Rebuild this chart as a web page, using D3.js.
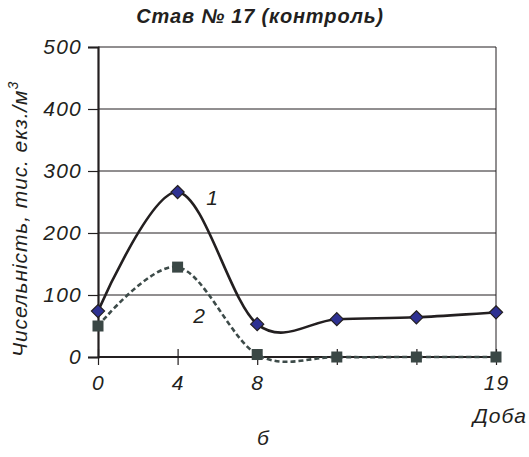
<!DOCTYPE html>
<html>
<head>
<meta charset="utf-8">
<script src="https://cdn.jsdelivr.net/npm/d3@7"></script>
<style>
  body { margin: 0; background: #fff; }
  text { font-family: "Liberation Sans", Arial, sans-serif; fill: #231f20; }
</style>
</head>
<body>
<svg id="chart" width="529" height="457"></svg>
<script>
// data
const days = ["0", "4", "8", "12", "15", "19"];
const dayLabels = ["0", "4", "8", "", "", "19"];
const series1 = [74, 266, 53, 61, 64, 72];
const series2 = [50, 145, 4, 0, 0, 0];
const yTicks = [0, 100, 200, 300, 400, 500];

const svg = d3.select("#chart");
const margin = { left: 98, right: 33, top: 47, bottom: 100 };
const W = 529, H = 457;

const x = d3.scalePoint().domain(days).range([margin.left, W - margin.right]);
const y = d3.scaleLinear().domain([0, 500]).range([H - margin.bottom, margin.top]);

// grid
svg.append("g").selectAll("line").data(yTicks.slice(1)).join("line")
    .attr("x1", margin.left).attr("x2", W - margin.right)
    .attr("y1", d => y(d)).attr("y2", d => y(d))
    .attr("stroke", "#231f20").attr("stroke-width", 1);

// right border
svg.append("line")
    .attr("x1", W - margin.right).attr("x2", W - margin.right)
    .attr("y1", y(500)).attr("y2", y(0))
    .attr("stroke", "#231f20").attr("stroke-width", 1);

// y axis
const yAxis = svg.append("g")
    .attr("transform", `translate(${margin.left},0)`)
    .call(d3.axisLeft(y).tickValues(yTicks).tickSize(10).tickPadding(6));
yAxis.select(".domain").attr("stroke", "#231f20").attr("stroke-width", 2.2);
yAxis.selectAll(".tick line").attr("stroke", "#231f20").attr("stroke-width", 1.2);
yAxis.selectAll(".tick text")
    .attr("font-size", 21).attr("font-style", "italic").attr("letter-spacing", 1.2)
    .attr("font-family", "Liberation Sans, Arial, sans-serif").attr("fill", "#231f20");

// x axis
const xAxis = svg.append("g")
    .attr("transform", `translate(0,${y(0)})`)
    .call(d3.axisBottom(x).tickFormat((d, i) => dayLabels[i]).tickSize(8).tickPadding(10));
xAxis.select(".domain").attr("stroke", "#231f20").attr("stroke-width", 2).attr("d", `M${margin.left},0H${W - margin.right}`);
xAxis.selectAll(".tick line").attr("stroke", "#231f20").attr("stroke-width", 1.2).attr("y1", -8);
xAxis.selectAll(".tick text")
    .attr("font-size", 21).attr("font-style", "italic").attr("letter-spacing", 1.2)
    .attr("font-family", "Liberation Sans, Arial, sans-serif").attr("fill", "#231f20");

// lines
const line = d3.line()
    .x((d, i) => x(days[i]))
    .y(d => y(d))
    .curve(d3.curveCardinal.tension(0));

svg.append("path").datum(series2)
    .attr("d", line)
    .attr("fill", "none")
    .attr("stroke", "#3d4b49")
    .attr("stroke-width", 2.6)
    .attr("stroke-dasharray", "5,3");

svg.append("path").datum(series1)
    .attr("d", line)
    .attr("fill", "none")
    .attr("stroke", "#231f20")
    .attr("stroke-width", 2.6);

// markers
svg.append("g").selectAll("rect").data(series2).join("rect")
    .attr("x", (d, i) => x(days[i]) - 5.5)
    .attr("y", d => y(d) - 5.5)
    .attr("width", 11).attr("height", 11)
    .attr("fill", "#3a4745");

svg.append("g").selectAll("path").data(series1).join("path")
    .attr("d", d3.symbol(d3.symbolDiamond2, 110))
    .attr("transform", (d, i) => `translate(${x(days[i])},${y(d)})`)
    .attr("fill", "#2e3192")
    .attr("stroke", "#231f20")
    .attr("stroke-width", 1.2);

// series labels
svg.append("text").attr("x", 212).attr("y", 205)
    .attr("text-anchor", "middle").attr("font-size", 21).attr("font-style", "italic").text("1");
svg.append("text").attr("x", 199).attr("y", 323)
    .attr("text-anchor", "middle").attr("font-size", 21).attr("font-style", "italic").text("2");

// titles
svg.append("text").attr("x", 260).attr("y", 23)
    .attr("text-anchor", "middle").attr("font-size", 20).attr("letter-spacing", 0.8)
    .attr("font-weight", "bold").attr("font-style", "italic")
    .text("Став № 17 (контроль)");

svg.append("text")
    .attr("transform", `translate(27,219) rotate(-90)`)
    .attr("text-anchor", "middle").attr("font-size", 21).attr("font-style", "italic")
    .attr("letter-spacing", 0.9)
    .text("Чисельність, тис. екз./м")
  .append("tspan").attr("dy", -9).attr("font-size", 14).text("3");

svg.append("text").attr("x", 500).attr("y", 423)
    .attr("text-anchor", "middle").attr("font-size", 21).attr("font-style", "italic")
    .attr("letter-spacing", 1)
    .text("Доба");

svg.append("text").attr("x", 263).attr("y", 445)
    .attr("text-anchor", "middle").attr("font-size", 21).attr("font-style", "italic")
    .text("б");
</script>
</body>
</html>
